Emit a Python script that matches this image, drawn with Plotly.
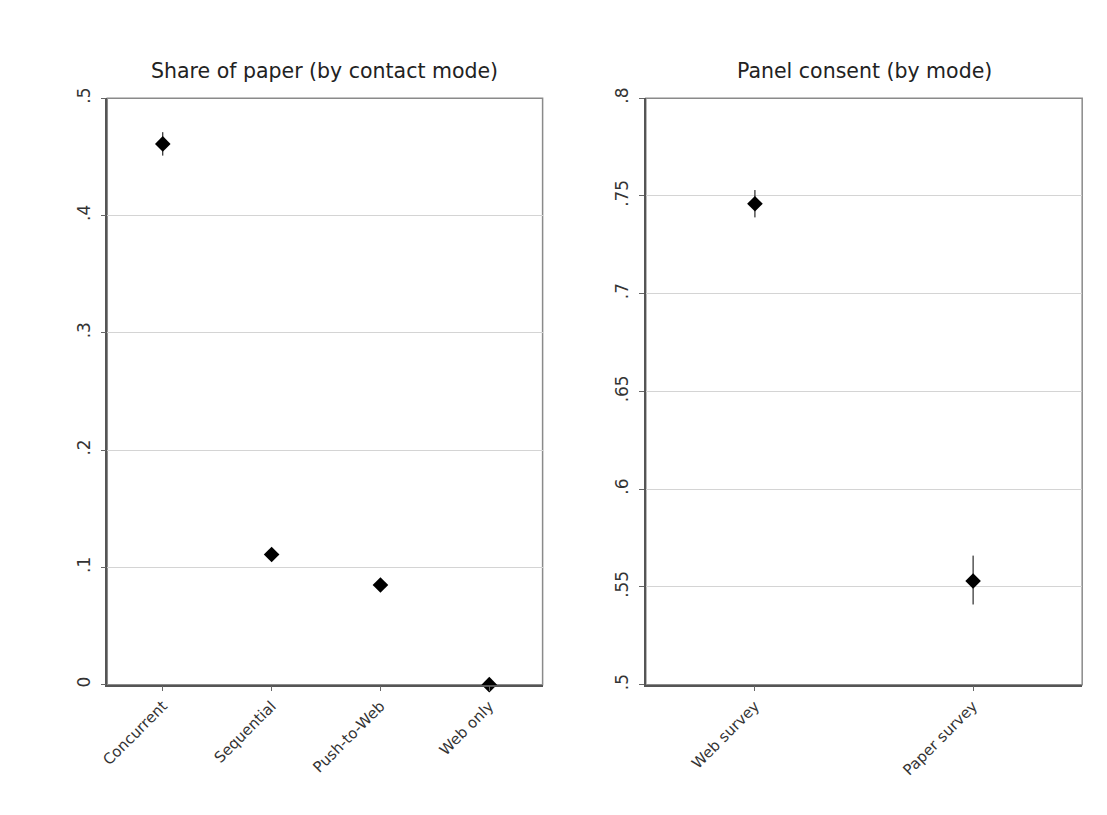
import plotly.graph_objects as go

# Share of paper responses by contact mode
contact_modes = ["Concurrent", "Sequential", "Push-to-Web", "Web only"]
paper_share = [0.461, 0.111, 0.085, 0.0]
paper_ci_low = [0.451, 0.107, 0.081, 0.0]
paper_ci_high = [0.471, 0.115, 0.089, 0.0]

# Panel consent by survey mode
survey_modes = ["Web survey", "Paper survey"]
consent = [0.746, 0.553]
consent_ci_low = [0.739, 0.541]
consent_ci_high = [0.753, 0.566]

left_ticks = [0, 0.1, 0.2, 0.3, 0.4, 0.5]
left_ticktext = ["0", ".1", ".2", ".3", ".4", ".5"]
right_ticks = [0.5, 0.55, 0.6, 0.65, 0.7, 0.75, 0.8]
right_ticktext = [".5", ".55", ".6", ".65", ".7", ".75", ".8"]

W, H = 1107, 815
FONT = "DejaVu Sans, Arial, sans-serif"


def px_x(p):
    return p / W


def px_y(p):
    return 1 - p / H


fig = go.Figure()

x_left = list(range(1, len(contact_modes) + 1))
fig.add_trace(go.Scatter(
    x=x_left, y=paper_share, mode="markers",
    marker=dict(symbol="diamond", size=12, color="black"),
    error_y=dict(type="data", symmetric=False,
                 array=[h - v for h, v in zip(paper_ci_high, paper_share)],
                 arrayminus=[v - l for v, l in zip(paper_share, paper_ci_low)],
                 color="black", thickness=1, width=0),
    xaxis="x", yaxis="y", showlegend=False, cliponaxis=False,
))

x_right = list(range(1, len(survey_modes) + 1))
fig.add_trace(go.Scatter(
    x=x_right, y=consent, mode="markers",
    marker=dict(symbol="diamond", size=12, color="black"),
    error_y=dict(type="data", symmetric=False,
                 array=[h - v for h, v in zip(consent_ci_high, consent)],
                 arrayminus=[v - l for v, l in zip(consent, consent_ci_low)],
                 color="black", thickness=1, width=0),
    xaxis="x2", yaxis="y2", showlegend=False, cliponaxis=False,
))

y_dom = [px_y(688), px_y(89)]
axis_common = dict(
    showline=True, linecolor="#555555", linewidth=1.5,
    ticks="outside", ticklen=5, tickcolor="#666666", tickwidth=1,
    zeroline=False,
)
x_font = dict(family=FONT, size=15, color="#333333")
y_font = dict(family=FONT, size=17, color="#333333")

L0, L1 = 100, 538.5
R0, R1 = 642.5, 1082

fig.update_layout(
    width=W, height=H,
    margin=dict(l=0, r=0, t=0, b=0),
    paper_bgcolor="white", plot_bgcolor="white",
    xaxis=dict(domain=[px_x(L0), px_x(L1)], range=[0.49, 4.49],
               tickvals=x_left, ticktext=contact_modes, tickangle=-45,
               tickfont=x_font, showgrid=False, anchor="y", **axis_common),
    yaxis=dict(domain=y_dom, range=[0, 0.5], tickvals=left_ticks,
               ticktext=left_ticktext, tickangle=-90, tickfont=y_font,
               ticklabelstandoff=4,
               showgrid=True, gridcolor="#d4d4d4", gridwidth=1,
               anchor="x", **axis_common),
    xaxis2=dict(domain=[px_x(R0), px_x(R1)], range=[0.5, 2.5],
                tickvals=x_right, ticktext=survey_modes, tickangle=-45,
                tickfont=x_font, showgrid=False, anchor="y2", **axis_common),
    yaxis2=dict(domain=y_dom, range=[0.5, 0.8], tickvals=right_ticks,
                ticktext=right_ticktext, tickangle=-90, tickfont=y_font,
                ticklabelstandoff=4,
                showgrid=True, gridcolor="#d4d4d4", gridwidth=1,
                anchor="x2", **axis_common),
)

# Light frame around each plot region
for xr, yr in [("x domain", "y domain"), ("x2 domain", "y2 domain")]:
    fig.add_shape(type="rect", xref=xr, yref=yr, x0=0, x1=1, y0=0, y1=1,
                  line=dict(color="#8a8a8a", width=1.5), layer="below")

# Panel titles
for text, xc in [("Share of paper (by contact mode)", (L0 + L1) / 2),
                 ("Panel consent (by mode)", (R0 + R1) / 2)]:
    fig.add_annotation(text=text, x=px_x(xc), y=px_y(61), xref="paper", yref="paper",
                       showarrow=False, xanchor="center", yanchor="middle",
                       font=dict(family=FONT, size=20.5, color="#222222"))

fig.write_html("out.html")
